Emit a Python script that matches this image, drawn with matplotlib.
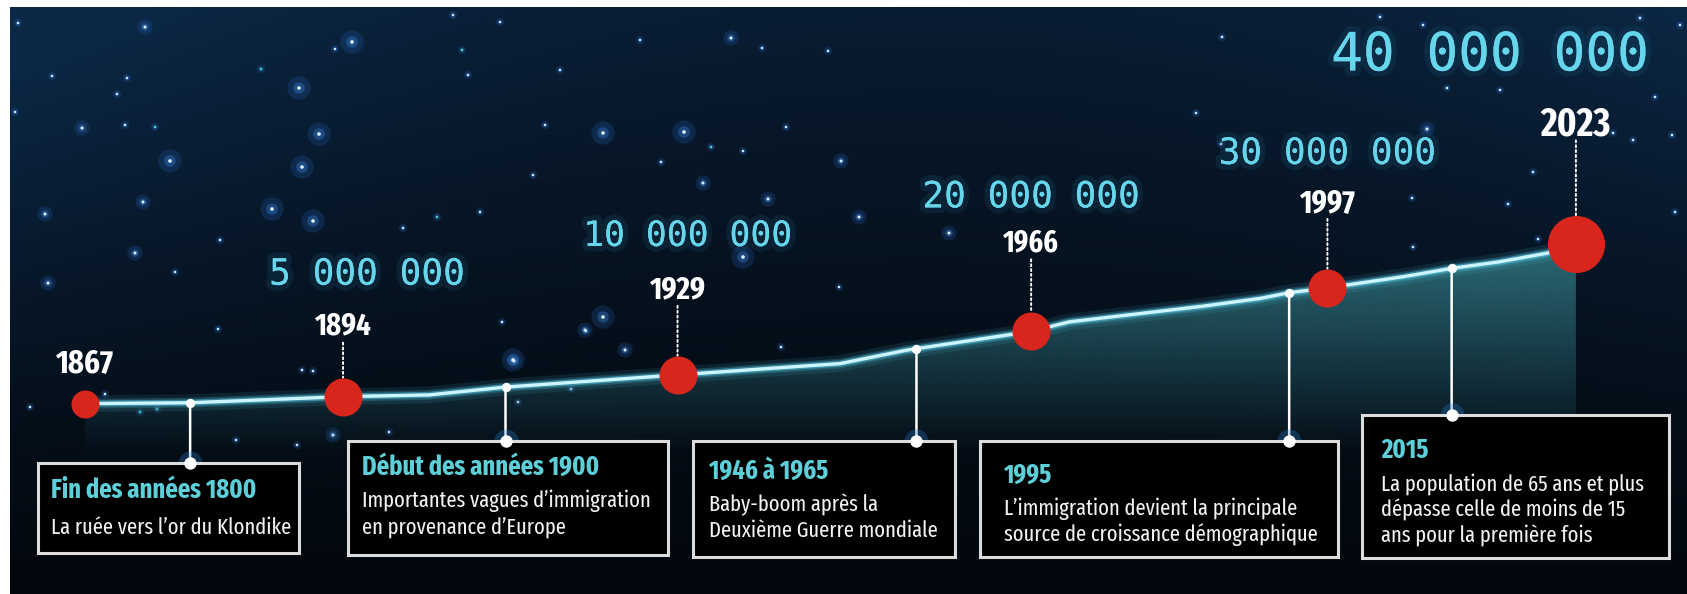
import os
import numpy as np
import matplotlib.pyplot as plt
import matplotlib.patheffects as pe
import matplotlib.transforms as mtransforms
from matplotlib import font_manager as fm
from matplotlib.patches import Rectangle

W, H = 1687, 594

# jalons de population (millions)
milestone_years = [1867, 1894, 1929, 1966, 1997, 2023]
milestone_pop = [3.4, 5.0, 10.0, 20.0, 30.0, 40.0]
milestone_labels = ["", "5 000 000", "10 000 000", "20 000 000", "30 000 000", "40 000 000"]

# courbe (millions)
curve_years = [1867, 1878, 1894, 1903, 1911, 1929, 1938, 1946, 1953, 1966, 1970,
               1984, 1990, 1993, 1997, 2005, 2010, 2015, 2020, 2023]
curve_pop = [3.4, 3.6, 5.0, 5.4, 7.2, 10.0, 11.4, 12.6, 15.7, 20.0, 22.2,
             25.8, 27.6, 28.9, 30.0, 32.6, 34.5, 36.0, 38.0, 40.0]

# événements (position sur la ligne du temps)
event_years = [1878, 1911, 1954, 1993, 2010]
event_titles = ["Fin des années 1800", "Début des années 1900", "1946 à 1965", "1995", "2015"]
event_texts = [
    ["La ruée vers l’or du Klondike"],
    ["Importantes vagues d’immigration", "en provenance d’Europe"],
    ["Baby-boom après la", "Deuxième Guerre mondiale"],
    ["L’immigration devient la principale", "source de croissance démographique"],
    ["La population de 65 ans et plus", "dépasse celle de moins de 15", "ans pour la première fois"],
]

# mise en page, en pixels
dot_px = [28, 38, 38, 38, 38, 57]
year_dy = [39, 70, 85, 88, 85, 120]
year_w = [58, 57, 56, 56, 56, 70]
pop_dx = [0, 24, 10, 0, 0, -86]
pop_dy = [0, 122, 139, 134, 134, 189]
pop_fs = [0, 26, 25, 26, 26, 38]
boxes = [(38, 463, 261, 90), (348, 441, 320, 114), (693, 441, 262, 116),
         (980, 441, 358, 116), (1362, 415, 307, 143)]
text_x = [51, 362, 709, 1004, 1381]
title_y = [490, 467, 471, 475, 450]
body_y = [528, 501, 505, 509, 484]
title_w = [212, 242, 119, 47, 47]
body_w = [[235], [290, 203], [170, 229], [287, 318], [263, 246, 209]]

# étoiles décoratives (x, y, taille, sarcelle)
stars = [
    (18, 23, 1, 0), (145, 27, 2, 0), (352, 42, 3, 0), (335, 49, 1, 0), (453, 15, 1, 0),
    (462, 50, 1, 1), (468, 75, 1, 0), (52, 76, 1, 0), (127, 78, 1, 0), (117, 94, 1, 0),
    (15, 112, 1, 0), (299, 88, 3, 0), (261, 69, 1, 1), (82, 128, 2, 0), (125, 125, 1, 0),
    (155, 127, 1, 1), (319, 134, 3, 0), (170, 161, 3, 0), (302, 167, 3, 0), (143, 202, 2, 0),
    (45, 214, 2, 0), (272, 209, 3, 0), (313, 221, 3, 0), (220, 240, 1, 0), (437, 217, 1, 1),
    (403, 228, 1, 0), (480, 212, 1, 0), (135, 253, 2, 0), (175, 272, 1, 0), (48, 283, 2, 0),
    (545, 125, 1, 0), (603, 133, 3, 0), (684, 132, 3, 0), (786, 127, 1, 0), (711, 147, 1, 1),
    (743, 151, 1, 0), (661, 162, 1, 0), (533, 175, 1, 0), (703, 183, 2, 0), (841, 161, 2, 0),
    (768, 199, 2, 0), (859, 217, 2, 0), (949, 233, 2, 0), (743, 257, 3, 0), (839, 287, 1, 0),
    (603, 317, 3, 0), (585, 330, 2, 0), (625, 350, 2, 0), (513, 360, 3, 0), (781, 347, 1, 0),
    (1196, 113, 1, 0), (731, 38, 2, 0), (762, 48, 1, 0), (828, 51, 1, 0), (1222, 37, 1, 0),
    (1221, 144, 1, 0), (1380, 17, 1, 0), (1423, 25, 1, 0), (1640, 18, 1, 0), (1680, 25, 1, 0),
    (1672, 135, 1, 0), (1613, 133, 1, 0), (1633, 140, 1, 0), (1675, 212, 1, 0), (1508, 204, 1, 0),
    (1533, 172, 1, 0), (1412, 198, 1, 0), (1447, 88, 1, 0), (1500, 90, 1, 0), (1427, 129, 2, 0),
    (1655, 97, 1, 0), (1413, 247, 1, 0), (1538, 239, 1, 0), (105, 394, 1, 0), (30, 407, 1, 0),
    (140, 412, 1, 1), (157, 409, 1, 1), (302, 370, 1, 0), (313, 371, 1, 0), (236, 440, 1, 0),
    (297, 445, 1, 0), (333, 435, 2, 0), (389, 432, 1, 0), (218, 329, 1, 0), (502, 322, 1, 0),
    (586, 331, 1, 0), (571, 389, 1, 0), (518, 402, 1, 0), (514, 361, 2, 0), (500, 22, 1, 0),
    (560, 70, 1, 0), (640, 40, 1, 0),
]


def pick_font(bold, prefs):
    # police étroite si disponible, sinon DejaVu Sans condensée
    target = 700 if bold else 400
    best, best_key = None, None
    for f in fm.fontManager.ttflist:
        key = (f.name + ' ' + os.path.basename(f.fname)).lower().replace('-', ' ').replace('_', ' ')
        if 'italic' in key or 'oblique' in key or 'ultra' in key:
            continue
        rank = next((i for i, p in enumerate(prefs) if p in key), None)
        if rank is None:
            continue
        w = f.weight if isinstance(f.weight, (int, float)) else fm.weight_dict.get(f.weight, 400)
        k = (rank, abs(w - target))
        if best_key is None or k < best_key:
            best, best_key = f, k
    if best is None:
        return fm.FontProperties(family='DejaVu Sans', stretch='condensed',
                                 weight='bold' if bold else 'normal')
    return fm.FontProperties(fname=best.fname)


NARROW = ['extracondensed', 'extra condensed', 'liberation sans narrow', 'roboto condensed',
          'condensed', 'narrow']
FB = pick_font(True, NARROW)
FR = pick_font(False, NARROW)

fig = plt.figure(figsize=(W / 100, H / 100), dpi=100)
fig.patch.set_facecolor('#03080e')
ax = fig.add_axes([0, 0, 1, 1])
ax.set_axis_off()

# échelle : 9.557 px par année (1946 à x=840), 4.35 px par million (0 à y=418.4)
x0 = 1946 - 840 / 9.557
x1 = x0 + W / 9.557
y_top = 418.4 / 4.35
y_bot = y_top - H / 4.35
ax.set_xlim(x0, x1)
ax.set_ylim(y_bot, y_top)
px = mtransforms.Affine2D().scale(1 / W, -1 / H).translate(0, 1) + fig.transFigure
blend = mtransforms.blended_transform_factory(ax.transData, px)

# fond
gy, gx = np.mgrid[0:1:150j, 0:1:400j]
glow = (1 - gy) ** 1.3 * np.clip(0.65 + 0.35 * ((gx - 0.55) / 0.45) ** 2, 0, 1.2)
glow = np.clip(glow, 0, 1)
dark = np.array([3, 8, 14]) / 255
navy = np.array([12, 40, 70]) / 255
bg = dark + (navy - dark) * glow[..., None]
ax.imshow(bg, extent=(x0, x1, y_bot, y_top), origin='upper', aspect='auto',
          interpolation='bilinear', zorder=0)

# étoiles
sx = np.array([s[0] for s in stars])
sy = np.array([s[1] for s in stars])
sz = np.array([s[2] for s in stars])
teal = np.array([s[3] for s in stars]) == 1
ax.scatter(sx, sy, s=np.array([35, 120, 280])[sz - 1], color='#2a6fd0', alpha=0.2, lw=0,
           transform=px, zorder=1)
ax.scatter(sx, sy, s=np.array([10, 30, 70])[sz - 1], color='#3a86e0', alpha=0.35, lw=0,
           transform=px, zorder=1)
ax.scatter(sx, sy, s=np.array([3, 5, 7])[sz - 1],
           color=np.where(teal, '#45d6b0', '#d8ecff'), lw=0, transform=px, zorder=1)

# aire sous la courbe
base = y_top - 470 / 4.35
poly = ax.fill_between(curve_years, curve_pop, base, color='none', lw=0, zorder=2)
gv = np.linspace(base, 42, 200)
ypx = (y_top - gv) * 4.35
grad = np.zeros((200, 2, 4))
grad[..., 0] = 44 / 255
grad[..., 1] = 108 / 255
grad[..., 2] = 118 / 255
grad[..., 3] = (np.clip((455 - ypx) / (455 - 250), 0, 1) * 0.95)[:, None]
im = ax.imshow(grad, extent=(curve_years[0], curve_years[-1], base, 42), origin='lower',
               aspect='auto', interpolation='bilinear', zorder=2)
im.set_clip_path(poly.get_paths()[0], transform=ax.transData)

# courbe lumineuse
for lw, a in [(12, 0.10), (7, 0.2), (4.5, 0.45)]:
    ax.plot(curve_years, curve_pop, color='#59d3f0', lw=lw, alpha=a,
            solid_capstyle='round', zorder=3)
ax.plot(curve_years, curve_pop, color='#cdf5ff', lw=2.4, zorder=3)

groups = {'year': [], 'title': [], 'body': []}  # (texte, largeur visée, largeur max)

# jalons
for i, (yr, p) in enumerate(zip(milestone_years, milestone_pop)):
    ax.scatter(yr, p, s=(dot_px[i] * 0.72) ** 2, color='#d9261c', lw=0, zorder=6)
    t = ax.annotate(str(yr), (yr, p), xytext=(0, year_dy[i] * 0.72), textcoords='offset points',
                    ha='center', va='center', color='white', fontproperties=FB,
                    fontsize=24, zorder=7)
    groups['year'].append((t, year_w[i], year_w[i]))
    if i == 0:
        continue
    ax.annotate('', (yr, p), xytext=(0, (year_dy[i] - 16) * 0.72), textcoords='offset points',
                arrowprops=dict(arrowstyle='-', color='white', lw=1.4, linestyle=(0, (1, 1.5)),
                                shrinkA=0, shrinkB=dot_px[i] * 0.36), zorder=4)
    ax.annotate(milestone_labels[i], (yr, p), xytext=(pop_dx[i] * 0.72, pop_dy[i] * 0.72),
                textcoords='offset points', ha='center', va='center', color='#66d6ec',
                fontsize=pop_fs[i], family='DejaVu Sans Mono',
                path_effects=[pe.withStroke(linewidth=8, foreground='#1a5a78', alpha=0.22),
                              pe.Normal()], zorder=7)

# événements
ev_pop = np.interp(event_years, curve_years, curve_pop)
for i, yr in enumerate(event_years):
    bx, by, bw, bh = boxes[i]
    room = bx + bw - text_x[i] - 8
    ax.annotate('', (yr, ev_pop[i]), xytext=(yr, by), textcoords=blend,
                arrowprops=dict(arrowstyle='-', color='white', lw=1.8, shrinkA=0, shrinkB=0),
                zorder=5)
    ax.scatter([yr], [ev_pop[i]], s=45, color='white', lw=0, zorder=6)
    ax.scatter([yr], [by], s=300, color='#2a7fd0', alpha=0.3, lw=0, transform=blend, zorder=7)
    ax.scatter([yr], [by], s=80, color='white', lw=0, transform=blend, zorder=9)
    ax.add_patch(Rectangle((bx, by), bw, bh, transform=px, facecolor='black',
                           edgecolor='#dcdcdc', lw=2.2, zorder=8))
    t = ax.text(text_x[i], title_y[i], event_titles[i], transform=px, ha='left', va='center',
                color='#5ccfd9', fontproperties=FB, fontsize=21, zorder=9)
    groups['title'].append((t, title_w[i], room))
    for k, line in enumerate(event_texts[i]):
        t = ax.text(text_x[i], body_y[i] + 26 * k, line, transform=px, ha='left', va='center',
                    color='#f2f2f2', fontproperties=FR, fontsize=16, zorder=9)
        groups['body'].append((t, body_w[i][k], room))

# une même taille par groupe, réglée sur les largeurs du modèle
renderer = fig.canvas.get_renderer()
for name, items in groups.items():
    widths = [t.get_window_extent(renderer).width for t, _, _ in items]
    if name == 'year':
        scales = [w_ref / w for (_, w_ref, _), w in zip(items, widths)]
    else:
        r = float(np.median([w_ref / w for (_, w_ref, _), w in zip(items, widths)]))
        scales = [r] * len(items)
    for (t, _, room), w, s in zip(items, widths, scales):
        s = min(s, room / w)
        t.set_fontsize(t.get_fontsize() * s)

# bordure blanche
ax.add_patch(Rectangle((0, 0), W, 7, transform=px, color='white', lw=0, zorder=20))
ax.add_patch(Rectangle((0, 0), 10, H, transform=px, color='white', lw=0, zorder=20))

ax.set_xlim(x0, x1)
ax.set_ylim(y_bot, y_top)
fig.savefig('out.png', dpi=100, facecolor=fig.get_facecolor())
